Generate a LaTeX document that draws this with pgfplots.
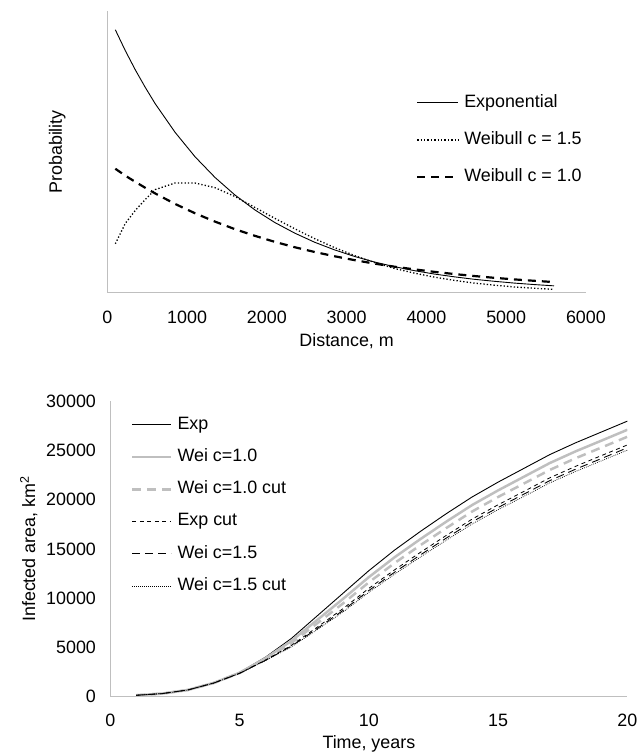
\documentclass[border=0pt]{standalone}
\usepackage{fontspec}
\setmainfont{Liberation Sans}
\usepackage{pgfplots}
\usepackage{pgfplotstable}
\pgfplotsset{compat=1.18}
\definecolor{axgray}{HTML}{BFBFBF}
\definecolor{lgray}{HTML}{BFBFBF}

\pgfplotstableread{
d     expo   w15    w10
100   265.0  49.4   125.0
225   244.0  70.0   118.0
350   224.7  83.0   111.8
475   207.0  94.0   105.8
600   190.5  104.0  100.1
850   161.6  110.7  89.5
1100  137.0  110.6  80.1
1350  116.2  105.9  71.7
1600  98.5   97.0   64.1
1850  83.5   86.0   57.4
2100  70.8   75.0   51.3
2350  60.1   64.5   45.9
2600  50.9   54.5   41.1
2850  43.2   45.5   36.8
3100  36.6   37.5   32.9
3350  31.0   30.5   29.4
3600  26.3   24.5   26.3
3850  22.3   19.8   23.6
4100  18.9   15.8   21.1
4350  16.1   12.5   18.9
4600  13.6   9.8    16.9
4850  11.6   7.7    15.1
5100  9.8    5.9    13.5
5350  8.3    4.6    12.1
5600  7.0    3.4    10.8
}\topdata

\pgfplotstableread{
t  expo   wei10  wei10c expc   wei15  wei15c
1  130    130    130    130    130    130
2  300    300    300    300    300    300
3  670    670    670    670    670    670
4  1400   1390   1380   1380   1370   1370
5  2450   2420   2400   2370   2360   2350
6  4000   3900   3810   3710   3680   3650
7  5900   5650   5440   5200   5120   5050
8  8200   7780   7440   7050   6910   6800
9  10500  9930   9470   8940   8750   8600
10 12800  12140  11610  11000  10780  10600
11 14900  14170  13580  12890  12650  12450
12 16800  16020  15400  14670  14410  14200
13 18600  17790  17140  16390  16120  15900
14 20300  19480  18820  18050  17770  17550
15 21800  20960  20290  19500  19220  19000
16 23200  22350  21660  20860  20580  20350
17 24600  23740  23040  22240  21950  21720
18 25800  24930  24230  23410  23120  22890
19 26900  26020  25320  24500  24200  23970
20 28000  27120  26410  25580  25290  25050
}\botdata

\pgfplotsset{
  mystyle/.style={
    scale only axis,
    axis x line=bottom, axis y line=left,
    axis line style={-, draw=axgray, line width=1.2bp},
    major tick length=0pt,
    tick style={draw=none},
    scaled ticks=false,
    /pgf/number format/1000 sep={},
    /pgf/number format/assume math mode=true,
    tick label style={font=\fontsize{18}{21}\selectfont, text=black},
    label style={font=\fontsize{18}{21}\selectfont},
    xticklabel style={anchor=center, yshift=-24.3bp},
    yticklabel style={anchor=east, inner sep=0pt, xshift=-14.3bp},
    legend cell align=left,
    legend style={draw=none, fill=none, inner sep=0pt, anchor=north west,
      font=\fontsize{18}{21}\selectfont, column sep=0pt,
      nodes={inner xsep=5bp, inner ysep=2bp, text height=13bp, text depth=4bp}},
  }
}

\begin{document}
\begin{tikzpicture}
\path (0bp,0bp) rectangle (644bp,756bp);

\begin{axis}[mystyle,
  at={(107.7bp,462.3bp)}, anchor=south west,
  width=480bp, height=282.7bp,
  xmin=0, xmax=6000, ymin=0, ymax=284,
  xtick={0,1000,...,6000}, ytick=\empty,
  xlabel={Distance, m}, ylabel={Probability},
  xlabel style={at={(axis description cs:0.5,-0.171)}, anchor=center},
  ylabel style={at={(axis description cs:-0.1046,0.5)}, anchor=center},
  legend image code/.code={\draw[#1] (0bp,0bp) -- (41bp,0bp);},
  legend style={at={(axis description cs:0.645,0.7128)}, row sep=16.5bp},
]
\addplot[black, line width=0.9bp] table[x=d, y=expo] {\topdata};
\addlegendentry{Exponential}
\addplot[black, line width=1.3bp, dash pattern=on 1.3bp off 2.1bp] table[x=d, y=w15] {\topdata};
\addlegendentry{Weibull c = 1.5}
\addplot[black, line width=2.2bp, dash pattern=on 8bp off 6bp] table[x=d, y=w10] {\topdata};
\addlegendentry{Weibull c = 1.0}
\end{axis}

\begin{axis}[mystyle,
  at={(110.7bp,57.3bp)}, anchor=south west,
  width=518.6bp, height=296bp,
  xmin=0, xmax=20, ymin=0, ymax=30000,
  xtick={0,5,...,20}, ytick={0,5000,...,30000},
  xlabel={Time, years}, ylabel={Infected area, km\textsuperscript{2}},
  xlabel style={at={(axis description cs:0.5,-0.162)}, anchor=center},
  ylabel style={at={(axis description cs:-0.158,0.5)}, anchor=center},
  legend image code/.code={\draw[#1] (0bp,0bp) -- (39bp,0bp);},
  legend style={at={(axis description cs:0.0399,0.9568)}, row sep=11.3bp},
]
\addplot[black, line width=0.9bp] table[x=t, y=expo] {\botdata};
\addlegendentry{Exp}
\addplot[lgray, line width=2.5bp] table[x=t, y=wei10] {\botdata};
\addlegendentry{Wei c=1.0}
\addplot[lgray, line width=2.5bp, dash pattern=on 9bp off 6bp] table[x=t, y=wei10c] {\botdata};
\addlegendentry{Wei c=1.0 cut}
\addplot[black, line width=0.8bp, dash pattern=on 4bp off 3.5bp] table[x=t, y=expc] {\botdata};
\addlegendentry{Exp cut}
\addplot[black, line width=0.9bp, dash pattern=on 8bp off 5bp] table[x=t, y=wei15] {\botdata};
\addlegendentry{Wei c=1.5}
\addplot[black, line width=0.7bp, dash pattern=on 0.8bp off 1.2bp] table[x=t, y=wei15c] {\botdata};
\addlegendentry{Wei c=1.5 cut}
\end{axis}
\end{tikzpicture}
\end{document}
